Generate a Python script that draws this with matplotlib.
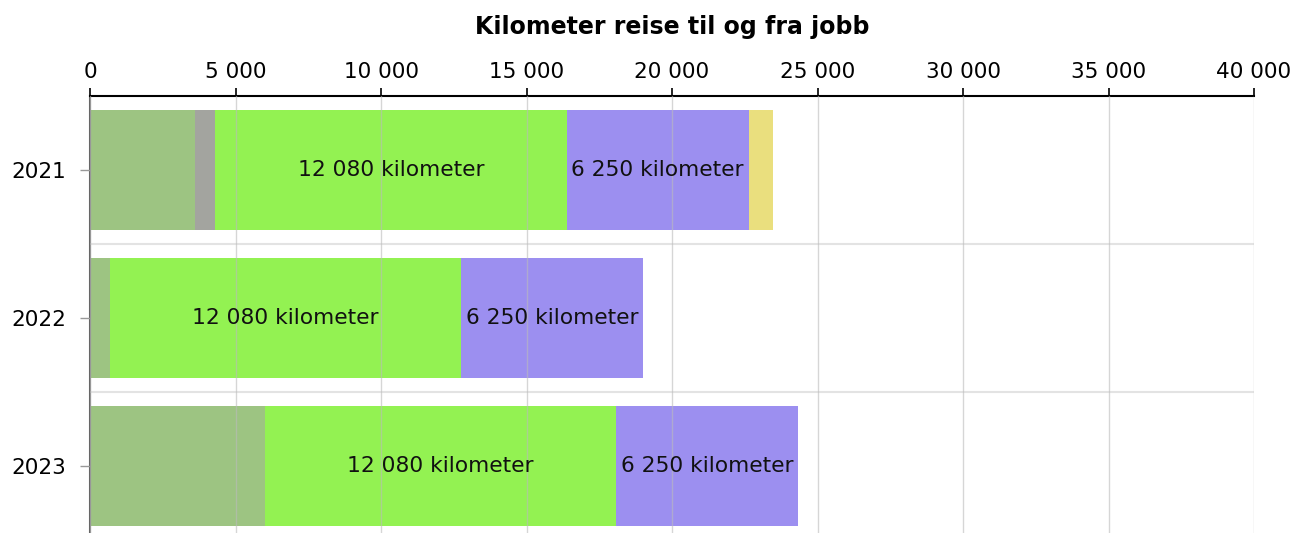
import matplotlib.pyplot as plt
from matplotlib.ticker import FuncFormatter, MultipleLocator, FixedLocator

# Data
years = ["2021", "2022", "2023"]
gange = [3600, 680, 6000]
annet = [700, 0, 0]
sykkel = [12080, 12080, 12080]
bil = [6250, 6250, 6250]
buss = [830, 0, 0]

series = [
    ("Gange", gange, "#9dc482"),
    ("Annet", annet, "#a3a49f"),
    ("Sykkel", sykkel, "#93f252"),
    ("Bil", bil, "#9c8ff0"),
    ("Buss", buss, "#eadf7e"),
]
labelled = {"Sykkel", "Bil"}

plt.rcParams['font.family'] = ['DejaVu Sans']

fig = plt.figure(figsize=(12.94, 5.33), dpi=100)
ax = fig.add_axes([0.0696, 0.0, 0.8995, 0.8199])

ypos = list(range(len(years)))
left = [0] * len(years)
for name, vals, col in series:
    bars = ax.barh(ypos, vals, left=left, height=0.81, color=col, linewidth=0)
    if name in labelled:
        for b, v in zip(bars, vals):
            if v > 0:
                ax.text(b.get_x() + b.get_width() / 2, b.get_y() + b.get_height() / 2,
                        f"{v:,}".replace(",", " ") + " kilometer",
                        ha="center", va="center", fontsize=15.7, color="#111111")
    left = [l + v for l, v in zip(left, vals)]

# Axes
ax.set_xlim(0, 40000)
ax.set_ylim(2.45, -0.5)
ax.xaxis.tick_top()
ax.xaxis.set_major_locator(MultipleLocator(5000))
ax.xaxis.set_major_formatter(FuncFormatter(lambda x, p: f"{int(x):,}".replace(",", " ")))
ax.set_yticks(ypos)
ax.set_yticklabels(years)
ax.yaxis.set_minor_locator(FixedLocator([0.5, 1.5]))

ax.tick_params(axis="x", which="major", labelsize=15.5, length=6, width=1.2,
               color="black", pad=4)
ax.tick_params(axis="y", which="major", labelsize=15.5, length=7, width=1,
               color="#999999", pad=10)
ax.tick_params(axis="y", which="minor", length=0)

ax.grid(True, axis="x", which="major", color="#bbbbbb", alpha=0.6, linewidth=1)
ax.grid(True, axis="y", which="minor", color="#bbbbbb", alpha=0.4, linewidth=1.5)
ax.set_axisbelow(False)

for s in ["right", "bottom"]:
    ax.spines[s].set_visible(False)
ax.spines["top"].set_linewidth(1.5)
ax.spines["top"].set_color("black")
ax.spines["left"].set_color("#666666")
ax.spines["left"].set_linewidth(1.5)

# title centred over the plot area
fig.suptitle("Kilometer reise til og fra jobb", fontsize=17, fontweight="bold",
             x=0.0696 + 0.8995 / 2, y=0.972, va="top")

fig.savefig("out.png", dpi=100)
